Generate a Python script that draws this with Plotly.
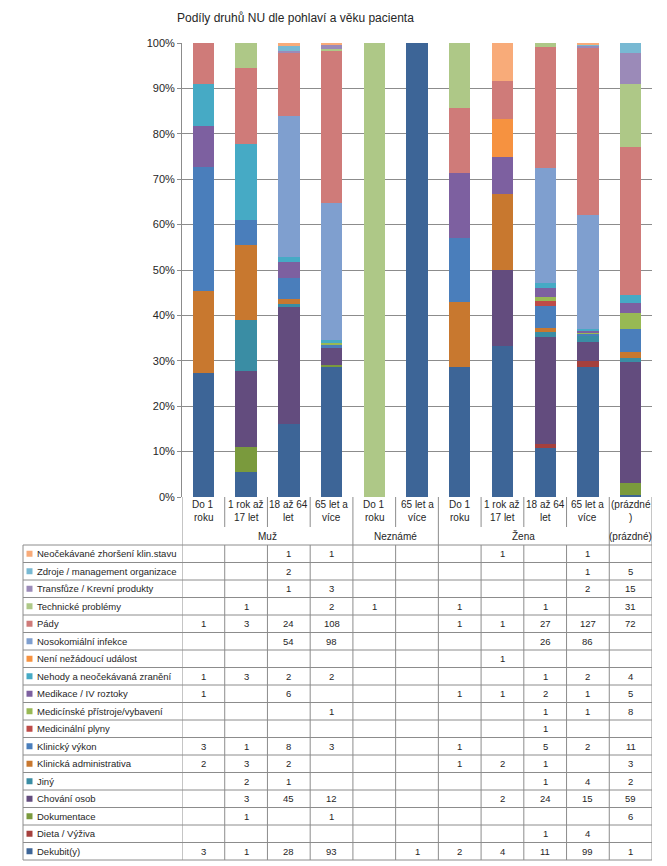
import plotly.graph_objects as go

# ---------------- data ----------------
categories = ["Do 1 roku", "1 rok až 17 let", "18 až 64 let", "65 let a více",
              "Do 1 roku", "65 let a více",
              "Do 1 roku", "1 rok až 17 let", "18 až 64 let", "65 let a více",
              "(prázdné)"]
cat_lines = [["Do 1", "roku"], ["1 rok až", "17 let"], ["18 až 64", "let"], ["65 let a", "více"],
             ["Do 1", "roku"], ["65 let a", "více"],
             ["Do 1", "roku"], ["1 rok až", "17 let"], ["18 až 64", "let"], ["65 let a", "více"],
             ["(prázdné", ")"]]
groups = ["Muž", "Neznámé", "Žena", "(prázdné)"]
group_spans = [(0, 3), (4, 5), (6, 9), (10, 10)]

# series in stacking order (bottom -> top)
series_names = [
    "Dekubit(y)", "Dieta / Výživa", "Dokumentace", "Chování osob", "Jiný",
    "Klinická administrativa", "Klinický výkon", "Medicinální plyny",
    "Medicínské přístroje/vybavení", "Medikace / IV roztoky",
    "Nehody a neočekávaná zranění", "Není nežádoucí událost",
    "Nosokomiální infekce", "Pády", "Technické problémy",
    "Transfůze / Krevní produkty", "Zdroje / management organizace",
    "Neočekávané zhoršení klin.stavu",
]
dekubit        = [3, 1, 28, 93, 0, 1, 2, 4, 11, 99, 1]
dieta          = [0, 0, 0, 0, 0, 0, 0, 0, 1, 4, 0]
dokumentace    = [0, 1, 0, 1, 0, 0, 0, 0, 0, 0, 6]
chovani        = [0, 3, 45, 12, 0, 0, 0, 2, 24, 15, 59]
jiny           = [0, 2, 1, 0, 0, 0, 0, 0, 1, 4, 2]
klin_admin     = [2, 3, 2, 0, 0, 0, 1, 2, 1, 0, 3]
klin_vykon     = [3, 1, 8, 3, 0, 0, 1, 0, 5, 2, 11]
med_plyny      = [0, 0, 0, 0, 0, 0, 0, 0, 1, 0, 0]
med_pristroje  = [0, 0, 0, 1, 0, 0, 0, 0, 1, 1, 8]
medikace       = [1, 0, 6, 0, 0, 0, 1, 1, 2, 1, 5]
nehody         = [1, 3, 2, 2, 0, 0, 0, 0, 1, 2, 4]
neni           = [0, 0, 0, 0, 0, 0, 0, 1, 0, 0, 0]
nosokomialni   = [0, 0, 54, 98, 0, 0, 0, 0, 26, 86, 0]
pady           = [1, 3, 24, 108, 0, 0, 1, 1, 27, 127, 72]
technicke      = [0, 1, 0, 2, 1, 0, 1, 0, 1, 0, 31]
transfuze      = [0, 0, 1, 3, 0, 0, 0, 0, 0, 2, 15]
zdroje         = [0, 0, 2, 0, 0, 0, 0, 0, 0, 1, 5]
neocekavane    = [0, 0, 1, 1, 0, 0, 0, 1, 0, 1, 0]

series_values = [dekubit, dieta, dokumentace, chovani, jiny, klin_admin, klin_vykon,
                 med_plyny, med_pristroje, medikace, nehody, neni, nosokomialni,
                 pady, technicke, transfuze, zdroje, neocekavane]

colors = ["#3D6597", "#A5403D", "#7A9A3D", "#634C7E", "#3A8DA4", "#C8782F",
          "#4A7EBB", "#BE4B48", "#98B954", "#7D60A0", "#46AAC5", "#F69240",
          "#7F9FCF", "#CF7B79", "#AEC887", "#9B8AB8", "#78B9D3", "#F8AB79"]

ytick_vals = [0, 10, 20, 30, 40, 50, 60, 70, 80, 90, 100]
ytick_text = ["0%", "10%", "20%", "30%", "40%", "50%", "60%", "70%", "80%", "90%", "100%"]
title_text = "Podíly druhů NU dle pohlaví a věku pacienta"

# ---------------- layout geometry (pixels) ----------------
W, H = 667, 866
PL, PR, PT, PB = 182, 652, 43, 497
def ypp(py):
    return (PB - py) / (PB - PT)
def xpp(px):
    return (px - PL) / (PR - PL)

TABLE_LEFT = 23
TABLE_TOP = 545
ROW_H = 17.5
HDR_INNER_BOTTOM = 527
LINE_COL = "#8C8C8C"
TXT = "#262626"
FONT = "Liberation Sans, Arial, sans-serif"

fig = go.Figure()
xs = list(range(len(categories)))
for name, vals, col in zip(series_names, series_values, colors):
    fig.add_trace(go.Bar(x=xs, y=vals, name=name, marker=dict(color=col, line=dict(width=0)),
                         hovertemplate=name + ": %{y}<extra></extra>"))

shapes = []
annotations = []

# title
annotations.append(dict(text=title_text, x=xpp(175), y=ypp(18), xref="paper", yref="paper",
                        xanchor="left", yanchor="middle", showarrow=False,
                        font=dict(size=12, color=TXT, family=FONT)))

# header category labels
for i, lines in enumerate(cat_lines):
    for k, ln in enumerate(lines):
        annotations.append(dict(text=ln, x=i, y=ypp(505 + 12 * k), xref="x", yref="paper",
                                xanchor="center", yanchor="middle", showarrow=False,
                                font=dict(size=10, color=TXT, family=FONT)))
for g, (a, b) in zip(groups, group_spans):
    annotations.append(dict(text=g, x=(a + b) / 2, y=ypp(536), xref="x", yref="paper",
                            xanchor="center", yanchor="middle", showarrow=False,
                            font=dict(size=10, color=TXT, family=FONT)))

# header vertical lines
group_bounds = {-0.5, 3.5, 5.5, 9.5, 10.5}
for j in range(len(categories) + 1):
    xb = j - 0.5
    y_end = TABLE_TOP if xb in group_bounds else HDR_INNER_BOTTOM
    shapes.append(dict(type="line", xref="x", yref="paper", x0=xb, x1=xb,
                       y0=ypp(PB), y1=ypp(y_end), line=dict(color=LINE_COL, width=1)))

# table
n_rows = len(series_names)
table_bottom = TABLE_TOP + n_rows * ROW_H
for r in range(n_rows + 1):
    yy = ypp(TABLE_TOP + r * ROW_H)
    shapes.append(dict(type="line", xref="paper", yref="paper", x0=xpp(TABLE_LEFT), x1=1,
                       y0=yy, y1=yy, line=dict(color=LINE_COL, width=1)))
for j in range(len(categories) + 1):
    xb = j - 0.5
    shapes.append(dict(type="line", xref="x", yref="paper", x0=xb, x1=xb,
                       y0=ypp(TABLE_TOP), y1=ypp(table_bottom), line=dict(color=LINE_COL, width=1)))
shapes.append(dict(type="line", xref="paper", yref="paper", x0=xpp(TABLE_LEFT), x1=xpp(TABLE_LEFT),
                   y0=ypp(TABLE_TOP), y1=ypp(table_bottom), line=dict(color=LINE_COL, width=1)))

table_order = list(range(n_rows))[::-1]  # top row = last series
for r, si in enumerate(table_order):
    yc = TABLE_TOP + r * ROW_H + ROW_H / 2
    shapes.append(dict(type="rect", xref="paper", yref="paper", x0=xpp(26.5), x1=xpp(32.5),
                       y0=ypp(yc + 3), y1=ypp(yc - 3), fillcolor=colors[si],
                       line=dict(width=0)))
    annotations.append(dict(text=series_names[si], x=xpp(35), y=ypp(yc), xref="paper", yref="paper",
                            xanchor="left", yanchor="middle", showarrow=False,
                            font=dict(size=9.5, color=TXT, family=FONT)))
    for i, v in enumerate(series_values[si]):
        if v:
            annotations.append(dict(text=str(v), x=i, y=ypp(yc), xref="x", yref="paper",
                                    xanchor="center", yanchor="middle", showarrow=False,
                                    font=dict(size=9.5, color=TXT, family=FONT)))

fig.update_layout(
    width=W, height=H, autosize=False,
    margin=dict(l=PL, r=W - PR, t=PT, b=H - PB, pad=0),
    barmode="stack", barnorm="percent", bargap=0.5,
    plot_bgcolor="white", paper_bgcolor="white",
    showlegend=False,
    font=dict(family=FONT, color=TXT),
    xaxis=dict(range=[-0.5, 10.5], showticklabels=False, showgrid=False, zeroline=False,
               showline=False, ticks="", fixedrange=True),
    yaxis=dict(range=[0, 100], tickvals=ytick_vals, ticktext=ytick_text,
               showgrid=True, gridcolor=LINE_COL, gridwidth=1, zeroline=False,
               showline=True, linecolor=LINE_COL, linewidth=1,
               ticks="outside", ticklen=4, tickcolor=LINE_COL,
               tickfont=dict(size=11, color=TXT, family=FONT), fixedrange=True),
    shapes=shapes, annotations=annotations,
)

fig.write_html("out.html", config={"displayModeBar": False},
               post_script="document.body.style.margin='0';document.body.style.overflow='hidden';")
